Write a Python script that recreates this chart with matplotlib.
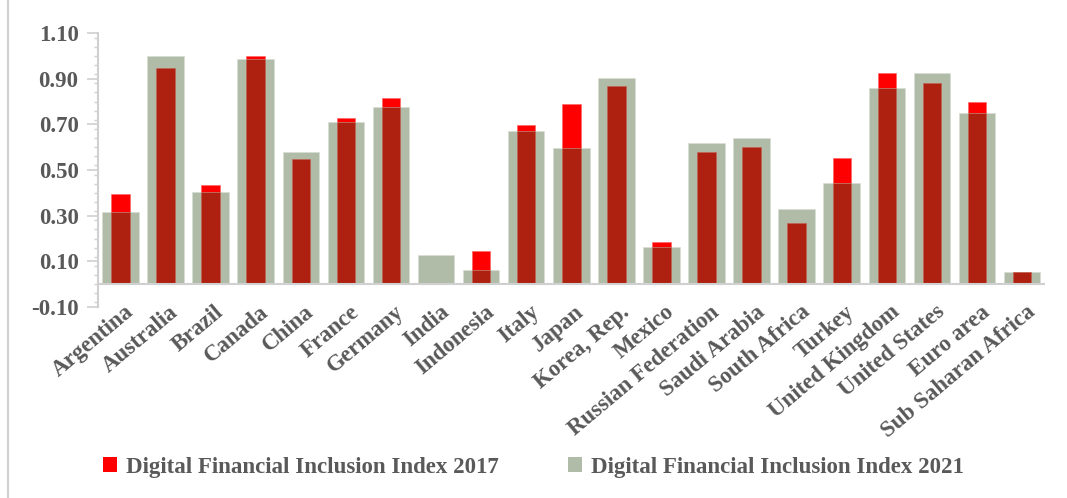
import matplotlib
matplotlib.use("Agg")
import matplotlib.pyplot as plt
import numpy as np
from matplotlib.ticker import MultipleLocator, FormatStrFormatter
from matplotlib.patches import Patch
from matplotlib.lines import Line2D

countries = ["Argentina", "Australia", "Brazil", "Canada", "China", "France", "Germany",
             "India", "Indonesia", "Italy", "Japan", "Korea, Rep.", "Mexico",
             "Russian Federation", "Saudi Arabia", "South Africa", "Turkey",
             "United Kingdom", "United States", "Euro area", "Sub Saharan Africa"]
dfii_2017 = [0.394, 0.945, 0.434, 0.999, 0.549, 0.730, 0.816, 0.0, 0.147, 0.696, 0.787,
             0.869, 0.185, 0.577, 0.600, 0.270, 0.553, 0.923, 0.883, 0.797, 0.055]
dfii_2021 = [0.314, 0.999, 0.404, 0.988, 0.577, 0.711, 0.778, 0.127, 0.060, 0.673, 0.596,
             0.902, 0.165, 0.619, 0.642, 0.331, 0.442, 0.859, 0.923, 0.749, 0.055]
yticks = [-0.10, 0.10, 0.30, 0.50, 0.70, 0.90, 1.10]

RED = "#FF0000"
DARKRED = "#AE200F"
GRAY = "#B0BCA8"
TXT = "#595959"
AX = "#D0D0D0"

plt.rcParams["font.family"] = ["Liberation Serif", "DejaVu Serif"]
plt.rcParams["font.weight"] = "bold"

fig = plt.figure(figsize=(10.67, 4.98), dpi=100)
ax = fig.add_axes([0.0918, 0.3835, 0.8872, 0.5502])

x = np.arange(len(countries))
v17 = np.array(dfii_2017)
v21 = np.array(dfii_2021)
ax.bar(x, v17, width=0.41, color=RED, zorder=2, edgecolor="#FF6060", linewidth=0.4)
ax.bar(x, v21, width=0.81, color=GRAY, zorder=3, edgecolor="#D8DDD4", linewidth=0.5)
ax.bar(x, np.minimum(v17, v21), width=0.41, color=DARKRED, zorder=4,
       edgecolor="#C86050", linewidth=0.4)

ax.set_xlim(-0.5, len(countries) - 0.5)
ax.set_ylim(-0.10, 1.10)
ax.set_yticks(yticks)
ax.yaxis.set_major_formatter(FormatStrFormatter("%.2f"))
ax.yaxis.set_minor_locator(MultipleLocator(0.04))
ax.axhline(0, color=AX, lw=1.5, zorder=5)

for s in ["top", "right", "bottom"]:
    ax.spines[s].set_visible(False)
ax.spines["left"].set_color(AX)
ax.spines["left"].set_linewidth(1.5)

ax.tick_params(axis="y", which="major", length=8, width=1.2, color=AX,
               labelsize=16.5, labelcolor=TXT, pad=6)
ax.tick_params(axis="y", which="minor", length=3, width=1.0, color=AX)
ax.tick_params(axis="x", length=0, pad=-4)
ax.set_xticks(x + 0.08)
ax.set_xticklabels(countries, rotation=40, ha="right", rotation_mode="anchor",
                   fontsize=16.5, color=TXT, fontweight="bold")
for lbl in ax.get_yticklabels():
    lbl.set_fontweight("bold")

handles = [Patch(facecolor=RED, edgecolor="none"), Patch(facecolor=GRAY, edgecolor="none")]
labels = ["Digital Financial Inclusion Index 2017", "Digital Financial Inclusion Index 2021"]
leg = fig.legend(handles, labels, loc="center", bbox_to_anchor=(0.5, 0.062), ncol=2,
                 frameon=False, handlelength=0.6, handleheight=0.6, handletextpad=0.4,
                 columnspacing=3.0, prop={"size": 16.5, "weight": "bold"})
for t in leg.get_texts():
    t.set_color(TXT)

fig.add_artist(Line2D([0.0075, 0.0075], [0, 1], color=AX, lw=1.5, transform=fig.transFigure))

fig.savefig("out.png", dpi=100)
